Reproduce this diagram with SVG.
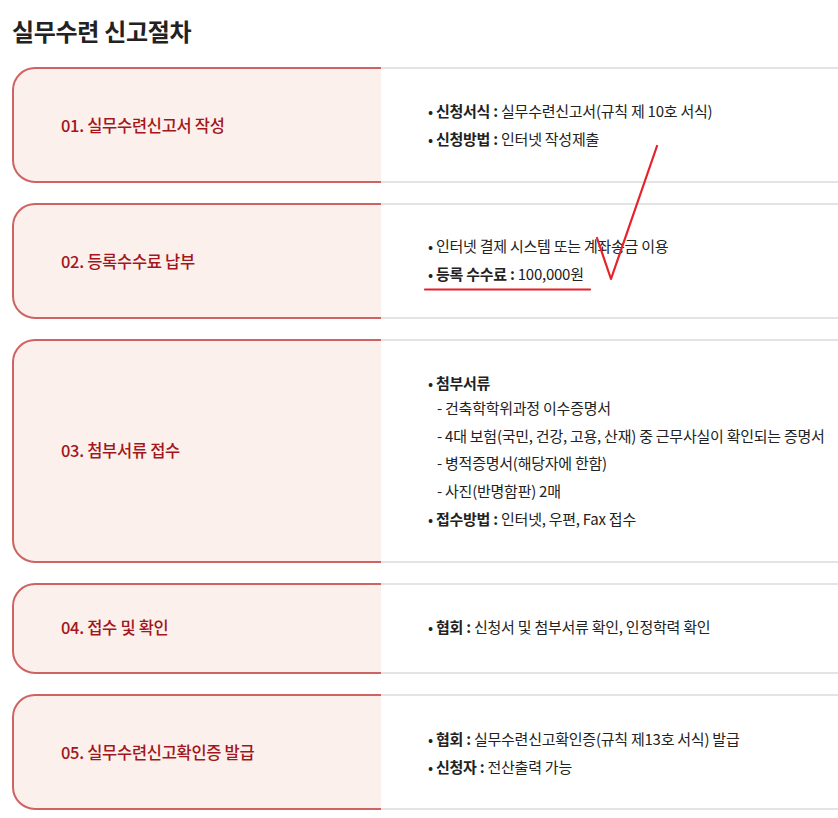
<svg xmlns="http://www.w3.org/2000/svg" width="838" height="818" viewBox="0 0 838 818">
<style>
text{font-family:"Noto Sans CJK KR","Noto Sans",sans-serif;}
.title{font-size:24px;font-weight:700;fill:#222;letter-spacing:-0.3px;}
.panel{fill:#fbf0eb;stroke:#cd6463;stroke-width:2;}
.gray{stroke:#dcdcdc;stroke-width:1.5;fill:none;}
.lbl{font-size:16.5px;font-weight:500;fill:#a3161c;letter-spacing:-0.3px;}
.txt{font-size:15px;fill:#222;letter-spacing:-0.25px;}
.b{font-weight:700;}
.mark{stroke:#e8202a;fill:none;stroke-width:2.2;stroke-linecap:round;stroke-linejoin:round;}
</style>
<rect width="838" height="818" fill="#fff"/>
<text class="title" x="12" y="41">실무수련 신고절차</text>

<g id="step1">
<path class="panel" d="M381,68 H35 A22,22 0 0 0 13,90 V160 A22,22 0 0 0 35,182 H381"/>
<path class="gray" d="M381,68 H838 M381,182 H838"/>
<text class="lbl" x="61" y="132">01. 실무수련신고서 작성</text>
<text class="txt" x="428" y="117">• <tspan class="b">신청서식 :</tspan> 실무수련신고서(규칙 제 10호 서식)</text>
<text class="txt" x="428" y="145">• <tspan class="b">신청방법 :</tspan> 인터넷 작성제출</text>
</g>

<g id="step2">
<path class="panel" d="M381,204 H35 A22,22 0 0 0 13,226 V296 A22,22 0 0 0 35,318 H381"/>
<path class="gray" d="M381,204 H838 M381,318 H838"/>
<text class="lbl" x="61" y="268">02. 등록수수료 납부</text>
<text class="txt" x="428" y="252">• 인터넷 결제 시스템 또는 계좌송금 이용</text>
<text class="txt" x="428" y="280">• <tspan class="b">등록 수수료 :</tspan> 100,000원</text>
</g>

<g id="step3">
<path class="panel" d="M381,340 H35 A22,22 0 0 0 13,362 V540 A22,22 0 0 0 35,562 H381"/>
<path class="gray" d="M381,340 H838 M381,562 H838"/>
<text class="lbl" x="61" y="457">03. 첨부서류 접수</text>
<text class="txt" x="428" y="389">• <tspan class="b">첨부서류</tspan></text>
<text class="txt" x="437" y="414">- 건축학학위과정 이수증명서</text>
<text class="txt" x="437" y="442">- 4대 보험(국민, 건강, 고용, 산재) 중 근무사실이 확인되는 증명서</text>
<text class="txt" x="437" y="469">- 병적증명서(해당자에 한함)</text>
<text class="txt" x="437" y="497">- 사진(반명함판) 2매</text>
<text class="txt" x="428" y="525">• <tspan class="b">접수방법 :</tspan> 인터넷, 우편, Fax 접수</text>
</g>

<g id="step4">
<path class="panel" d="M381,584 H35 A22,22 0 0 0 13,606 V651 A22,22 0 0 0 35,673 H381"/>
<path class="gray" d="M381,584 H838 M381,673 H838"/>
<text class="lbl" x="61" y="634">04. 접수 및 확인</text>
<text class="txt" x="428" y="633">• <tspan class="b">협회 :</tspan> 신청서 및 첨부서류 확인, 인정학력 확인</text>
</g>

<g id="step5">
<path class="panel" d="M381,695 H35 A22,22 0 0 0 13,717 V787 A22,22 0 0 0 35,809 H381"/>
<path class="gray" d="M381,695 H838 M381,809 H838"/>
<text class="lbl" x="61" y="759">05. 실무수련신고확인증 발급</text>
<text class="txt" x="428" y="745">• <tspan class="b">협회 :</tspan> 실무수련신고확인증(규칙 제13호 서식) 발급</text>
<text class="txt" x="428" y="773">• <tspan class="b">신청자 :</tspan> 전산출력 가능</text>
</g>

<g id="marks">
<path class="mark" d="M425,289.5 H590"/>
<path class="mark" d="M597,238 L611,279 L657,146"/>
</g>
</svg>
